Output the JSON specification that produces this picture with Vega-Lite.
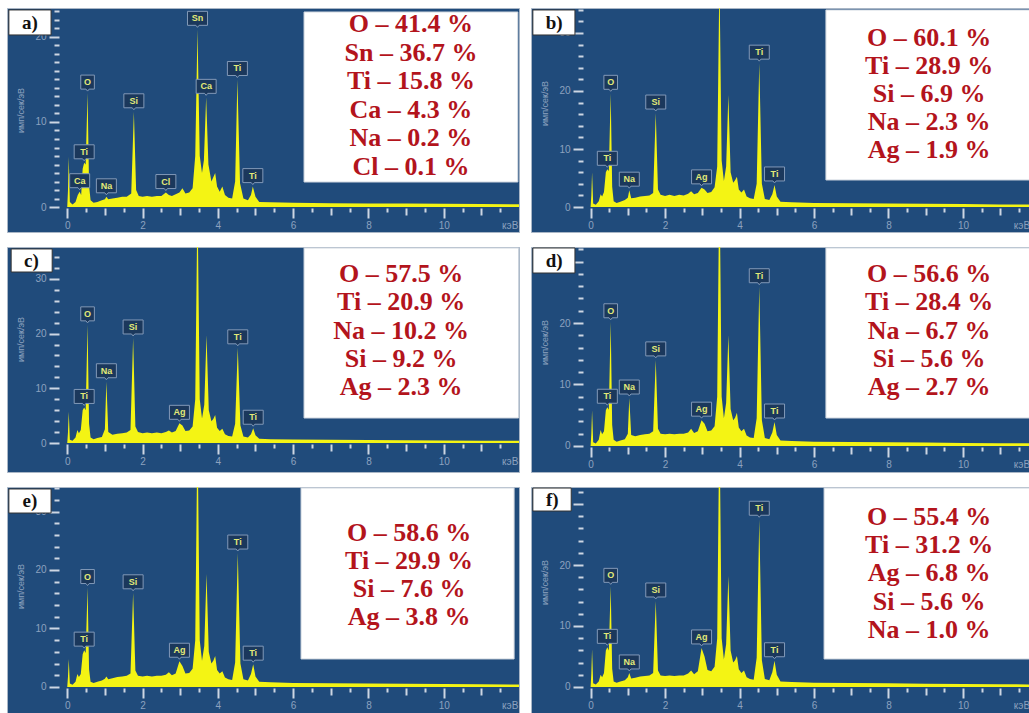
{
"$schema": "https://vega.github.io/schema/vega-lite/v6.json",
"background": "white",
"padding": {"left": 6, "top": 7, "right": 0, "bottom": 0},
"config": {"view": {"fill": "#204b7b", "stroke": "#a9b6c6", "strokeWidth": 1}, "axis": {"labelFont": "Liberation Sans", "titleFont": "Liberation Sans", "titlePadding": 9}},
"datasets": {
"spec": [
{"p":"a","e":0,"c":0},{"p":"a","e":0.02,"c":2},{"p":"a","e":0.04,"c":5.9},{"p":"a","e":0.07,"c":0.6},{"p":"a","e":0.14,"c":0.3},{"p":"a","e":0.22,"c":0.6},{"p":"a","e":0.28,"c":1.4},{"p":"a","e":0.33,"c":1.8},{"p":"a","e":0.37,"c":1.4},{"p":"a","e":0.41,"c":4.5},{"p":"a","e":0.45,"c":5.2},{"p":"a","e":0.49,"c":5.0},{"p":"a","e":0.54,"c":13.4},{"p":"a","e":0.58,"c":2.5},{"p":"a","e":0.62,"c":0.8},{"p":"a","e":0.7,"c":0.5},{"p":"a","e":0.8,"c":0.6},{"p":"a","e":0.92,"c":0.8},{"p":"a","e":1.0,"c":0.9},{"p":"a","e":1.04,"c":1.2},{"p":"a","e":1.09,"c":0.9},{"p":"a","e":1.2,"c":1.0},{"p":"a","e":1.33,"c":1.1},{"p":"a","e":1.46,"c":1.2},{"p":"a","e":1.58,"c":1.2},{"p":"a","e":1.7,"c":1.6},{"p":"a","e":1.77,"c":11.2},{"p":"a","e":1.83,"c":2.0},{"p":"a","e":1.9,"c":1.3},{"p":"a","e":2.0,"c":1.2},{"p":"a","e":2.12,"c":1.3},{"p":"a","e":2.25,"c":1.2},{"p":"a","e":2.38,"c":1.3},{"p":"a","e":2.5,"c":1.3},{"p":"a","e":2.62,"c":1.7},{"p":"a","e":2.7,"c":1.4},{"p":"a","e":2.78,"c":1.3},{"p":"a","e":2.88,"c":1.5},{"p":"a","e":2.98,"c":1.7},{"p":"a","e":3.06,"c":2.2},{"p":"a","e":3.14,"c":1.6},{"p":"a","e":3.24,"c":1.7},{"p":"a","e":3.33,"c":2.2},{"p":"a","e":3.4,"c":6.0},{"p":"a","e":3.46,"c":20.9},{"p":"a","e":3.52,"c":6.0},{"p":"a","e":3.58,"c":4.0},{"p":"a","e":3.63,"c":5.5},{"p":"a","e":3.69,"c":12.9},{"p":"a","e":3.75,"c":5.0},{"p":"a","e":3.83,"c":3.0},{"p":"a","e":3.88,"c":3.5},{"p":"a","e":3.93,"c":4.0},{"p":"a","e":3.98,"c":2.4},{"p":"a","e":4.05,"c":1.8},{"p":"a","e":4.12,"c":2.4},{"p":"a","e":4.19,"c":1.4},{"p":"a","e":4.28,"c":1.1},{"p":"a","e":4.38,"c":1.0},{"p":"a","e":4.46,"c":3.0},{"p":"a","e":4.52,"c":15.0},{"p":"a","e":4.59,"c":2.8},{"p":"a","e":4.68,"c":1.0},{"p":"a","e":4.8,"c":0.8},{"p":"a","e":4.88,"c":1.4},{"p":"a","e":4.93,"c":2.4},{"p":"a","e":5.0,"c":1.2},{"p":"a","e":5.1,"c":0.6},{"p":"a","e":5.4,"c":0.55},{"p":"a","e":6,"c":0.5},{"p":"a","e":7,"c":0.45},{"p":"a","e":8,"c":0.42},{"p":"a","e":9,"c":0.4},{"p":"a","e":10,"c":0.38},{"p":"a","e":11,"c":0.35},{"p":"a","e":12,"c":0.33},
{"p":"b","e":0,"c":0},{"p":"b","e":0.02,"c":2},{"p":"b","e":0.04,"c":6.0},{"p":"b","e":0.07,"c":0.6},{"p":"b","e":0.14,"c":0.4},{"p":"b","e":0.22,"c":1.0},{"p":"b","e":0.27,"c":2.2},{"p":"b","e":0.31,"c":1.8},{"p":"b","e":0.36,"c":2.6},{"p":"b","e":0.41,"c":6.0},{"p":"b","e":0.45,"c":6.5},{"p":"b","e":0.49,"c":6.2},{"p":"b","e":0.54,"c":19.6},{"p":"b","e":0.58,"c":3.5},{"p":"b","e":0.62,"c":1.0},{"p":"b","e":0.7,"c":0.7},{"p":"b","e":0.8,"c":0.9},{"p":"b","e":0.92,"c":1.2},{"p":"b","e":1.0,"c":1.6},{"p":"b","e":1.04,"c":2.9},{"p":"b","e":1.09,"c":1.5},{"p":"b","e":1.2,"c":1.6},{"p":"b","e":1.33,"c":1.8},{"p":"b","e":1.46,"c":1.9},{"p":"b","e":1.58,"c":2.0},{"p":"b","e":1.68,"c":2.4},{"p":"b","e":1.75,"c":16.2},{"p":"b","e":1.81,"c":3.0},{"p":"b","e":1.88,"c":2.1},{"p":"b","e":2.0,"c":1.9},{"p":"b","e":2.12,"c":2.1},{"p":"b","e":2.25,"c":1.9},{"p":"b","e":2.38,"c":2.1},{"p":"b","e":2.5,"c":2.0},{"p":"b","e":2.62,"c":2.3},{"p":"b","e":2.7,"c":2.7},{"p":"b","e":2.78,"c":2.2},{"p":"b","e":2.88,"c":2.4},{"p":"b","e":2.98,"c":3.3},{"p":"b","e":3.06,"c":3.0},{"p":"b","e":3.14,"c":2.4},{"p":"b","e":3.24,"c":2.6},{"p":"b","e":3.33,"c":3.4},{"p":"b","e":3.4,"c":7.0},{"p":"b","e":3.46,"c":40},{"p":"b","e":3.52,"c":8.0},{"p":"b","e":3.58,"c":4.5},{"p":"b","e":3.64,"c":7.0},{"p":"b","e":3.7,"c":19.3},{"p":"b","e":3.76,"c":6.0},{"p":"b","e":3.83,"c":4.2},{"p":"b","e":3.88,"c":4.6},{"p":"b","e":3.93,"c":5.2},{"p":"b","e":3.98,"c":3.0},{"p":"b","e":4.05,"c":2.5},{"p":"b","e":4.12,"c":3.0},{"p":"b","e":4.19,"c":1.8},{"p":"b","e":4.28,"c":1.5},{"p":"b","e":4.38,"c":1.4},{"p":"b","e":4.46,"c":4.0},{"p":"b","e":4.53,"c":24.8},{"p":"b","e":4.6,"c":4.0},{"p":"b","e":4.68,"c":1.4},{"p":"b","e":4.8,"c":1.2},{"p":"b","e":4.88,"c":2.2},{"p":"b","e":4.94,"c":3.8},{"p":"b","e":5.0,"c":1.8},{"p":"b","e":5.1,"c":0.9},{"p":"b","e":5.4,"c":0.8},{"p":"b","e":6,"c":0.7},{"p":"b","e":7,"c":0.65},{"p":"b","e":8,"c":0.6},{"p":"b","e":9,"c":0.55},{"p":"b","e":10,"c":0.5},{"p":"b","e":11,"c":0.45},{"p":"b","e":12,"c":0.4},
{"p":"c","e":0,"c":0},{"p":"c","e":0.02,"c":2},{"p":"c","e":0.04,"c":5.7},{"p":"c","e":0.07,"c":0.6},{"p":"c","e":0.14,"c":0.4},{"p":"c","e":0.22,"c":1.0},{"p":"c","e":0.27,"c":2.4},{"p":"c","e":0.31,"c":1.8},{"p":"c","e":0.36,"c":2.4},{"p":"c","e":0.41,"c":6.0},{"p":"c","e":0.45,"c":6.5},{"p":"c","e":0.49,"c":6.0},{"p":"c","e":0.54,"c":21.6},{"p":"c","e":0.58,"c":3.5},{"p":"c","e":0.62,"c":1.0},{"p":"c","e":0.7,"c":0.7},{"p":"c","e":0.8,"c":0.9},{"p":"c","e":0.92,"c":1.1},{"p":"c","e":1.0,"c":2.5},{"p":"c","e":1.04,"c":11.2},{"p":"c","e":1.09,"c":2.0},{"p":"c","e":1.2,"c":1.5},{"p":"c","e":1.33,"c":1.7},{"p":"c","e":1.46,"c":1.8},{"p":"c","e":1.58,"c":1.9},{"p":"c","e":1.68,"c":2.4},{"p":"c","e":1.75,"c":19.2},{"p":"c","e":1.81,"c":3.0},{"p":"c","e":1.88,"c":2.0},{"p":"c","e":2.0,"c":1.8},{"p":"c","e":2.12,"c":1.9},{"p":"c","e":2.25,"c":1.8},{"p":"c","e":2.38,"c":1.9},{"p":"c","e":2.5,"c":1.8},{"p":"c","e":2.62,"c":2.0},{"p":"c","e":2.7,"c":2.3},{"p":"c","e":2.78,"c":1.9},{"p":"c","e":2.88,"c":2.2},{"p":"c","e":2.98,"c":3.6},{"p":"c","e":3.06,"c":3.2},{"p":"c","e":3.14,"c":2.2},{"p":"c","e":3.24,"c":2.3},{"p":"c","e":3.33,"c":3.0},{"p":"c","e":3.4,"c":8.0},{"p":"c","e":3.46,"c":45},{"p":"c","e":3.52,"c":8.0},{"p":"c","e":3.58,"c":4.5},{"p":"c","e":3.64,"c":7.0},{"p":"c","e":3.7,"c":19.7},{"p":"c","e":3.76,"c":6.0},{"p":"c","e":3.83,"c":4.0},{"p":"c","e":3.88,"c":4.4},{"p":"c","e":3.93,"c":5.1},{"p":"c","e":3.98,"c":2.8},{"p":"c","e":4.05,"c":2.2},{"p":"c","e":4.12,"c":2.6},{"p":"c","e":4.19,"c":1.6},{"p":"c","e":4.28,"c":1.3},{"p":"c","e":4.38,"c":1.2},{"p":"c","e":4.46,"c":3.5},{"p":"c","e":4.53,"c":17.4},{"p":"c","e":4.6,"c":3.2},{"p":"c","e":4.68,"c":1.2},{"p":"c","e":4.8,"c":1.0},{"p":"c","e":4.88,"c":1.6},{"p":"c","e":4.94,"c":2.7},{"p":"c","e":5.0,"c":1.4},{"p":"c","e":5.1,"c":0.8},{"p":"c","e":5.4,"c":0.7},{"p":"c","e":6,"c":0.65},{"p":"c","e":7,"c":0.6},{"p":"c","e":8,"c":0.55},{"p":"c","e":9,"c":0.5},{"p":"c","e":10,"c":0.45},{"p":"c","e":11,"c":0.42},{"p":"c","e":12,"c":0.4},
{"p":"d","e":0,"c":0},{"p":"d","e":0.02,"c":2},{"p":"d","e":0.04,"c":5.8},{"p":"d","e":0.07,"c":0.6},{"p":"d","e":0.14,"c":0.4},{"p":"d","e":0.22,"c":1.0},{"p":"d","e":0.27,"c":2.6},{"p":"d","e":0.31,"c":1.9},{"p":"d","e":0.36,"c":2.4},{"p":"d","e":0.41,"c":5.8},{"p":"d","e":0.45,"c":6.3},{"p":"d","e":0.49,"c":5.9},{"p":"d","e":0.54,"c":20.2},{"p":"d","e":0.58,"c":3.4},{"p":"d","e":0.62,"c":1.0},{"p":"d","e":0.7,"c":0.7},{"p":"d","e":0.8,"c":0.9},{"p":"d","e":0.92,"c":1.1},{"p":"d","e":1.0,"c":2.0},{"p":"d","e":1.04,"c":7.8},{"p":"d","e":1.09,"c":1.8},{"p":"d","e":1.2,"c":1.6},{"p":"d","e":1.33,"c":1.8},{"p":"d","e":1.46,"c":1.9},{"p":"d","e":1.58,"c":2.0},{"p":"d","e":1.68,"c":2.4},{"p":"d","e":1.75,"c":14.0},{"p":"d","e":1.81,"c":2.8},{"p":"d","e":1.88,"c":2.0},{"p":"d","e":2.0,"c":1.9},{"p":"d","e":2.12,"c":2.0},{"p":"d","e":2.25,"c":1.9},{"p":"d","e":2.38,"c":2.0},{"p":"d","e":2.5,"c":2.0},{"p":"d","e":2.62,"c":2.2},{"p":"d","e":2.7,"c":2.8},{"p":"d","e":2.78,"c":2.1},{"p":"d","e":2.88,"c":2.4},{"p":"d","e":2.98,"c":4.2},{"p":"d","e":3.06,"c":3.6},{"p":"d","e":3.14,"c":2.4},{"p":"d","e":3.24,"c":2.5},{"p":"d","e":3.33,"c":3.2},{"p":"d","e":3.4,"c":8.0},{"p":"d","e":3.46,"c":45},{"p":"d","e":3.52,"c":8.0},{"p":"d","e":3.58,"c":4.5},{"p":"d","e":3.64,"c":7.0},{"p":"d","e":3.7,"c":18.0},{"p":"d","e":3.76,"c":6.0},{"p":"d","e":3.83,"c":4.2},{"p":"d","e":3.88,"c":4.6},{"p":"d","e":3.93,"c":5.4},{"p":"d","e":3.98,"c":3.0},{"p":"d","e":4.05,"c":2.4},{"p":"d","e":4.12,"c":2.8},{"p":"d","e":4.19,"c":1.7},{"p":"d","e":4.28,"c":1.4},{"p":"d","e":4.38,"c":1.3},{"p":"d","e":4.46,"c":4.5},{"p":"d","e":4.53,"c":25.9},{"p":"d","e":4.6,"c":4.2},{"p":"d","e":4.68,"c":1.3},{"p":"d","e":4.8,"c":1.1},{"p":"d","e":4.88,"c":2.2},{"p":"d","e":4.94,"c":3.9},{"p":"d","e":5.0,"c":1.8},{"p":"d","e":5.1,"c":0.9},{"p":"d","e":5.4,"c":0.8},{"p":"d","e":6,"c":0.7},{"p":"d","e":7,"c":0.65},{"p":"d","e":8,"c":0.6},{"p":"d","e":9,"c":0.55},{"p":"d","e":10,"c":0.5},{"p":"d","e":11,"c":0.45},{"p":"d","e":12,"c":0.42},
{"p":"e","e":0,"c":0},{"p":"e","e":0.02,"c":1.8},{"p":"e","e":0.04,"c":4.8},{"p":"e","e":0.07,"c":0.6},{"p":"e","e":0.14,"c":0.4},{"p":"e","e":0.22,"c":0.9},{"p":"e","e":0.27,"c":2.2},{"p":"e","e":0.31,"c":1.7},{"p":"e","e":0.36,"c":2.2},{"p":"e","e":0.41,"c":5.6},{"p":"e","e":0.45,"c":6.3},{"p":"e","e":0.49,"c":5.8},{"p":"e","e":0.54,"c":17.0},{"p":"e","e":0.58,"c":3.0},{"p":"e","e":0.62,"c":0.9},{"p":"e","e":0.7,"c":0.7},{"p":"e","e":0.8,"c":0.9},{"p":"e","e":0.92,"c":1.1},{"p":"e","e":1.0,"c":1.4},{"p":"e","e":1.04,"c":1.8},{"p":"e","e":1.09,"c":1.3},{"p":"e","e":1.2,"c":1.5},{"p":"e","e":1.33,"c":1.7},{"p":"e","e":1.46,"c":1.8},{"p":"e","e":1.58,"c":1.9},{"p":"e","e":1.68,"c":2.3},{"p":"e","e":1.75,"c":16.1},{"p":"e","e":1.81,"c":2.8},{"p":"e","e":1.88,"c":1.9},{"p":"e","e":2.0,"c":1.8},{"p":"e","e":2.12,"c":1.9},{"p":"e","e":2.25,"c":1.8},{"p":"e","e":2.38,"c":1.9},{"p":"e","e":2.5,"c":1.9},{"p":"e","e":2.62,"c":2.1},{"p":"e","e":2.7,"c":2.5},{"p":"e","e":2.78,"c":2.0},{"p":"e","e":2.88,"c":2.3},{"p":"e","e":2.98,"c":4.4},{"p":"e","e":3.06,"c":3.6},{"p":"e","e":3.14,"c":2.3},{"p":"e","e":3.24,"c":2.4},{"p":"e","e":3.33,"c":3.1},{"p":"e","e":3.4,"c":8.0},{"p":"e","e":3.46,"c":45},{"p":"e","e":3.52,"c":8.0},{"p":"e","e":3.58,"c":4.5},{"p":"e","e":3.64,"c":7.0},{"p":"e","e":3.7,"c":19.3},{"p":"e","e":3.76,"c":6.0},{"p":"e","e":3.83,"c":4.0},{"p":"e","e":3.88,"c":4.5},{"p":"e","e":3.93,"c":5.3},{"p":"e","e":3.98,"c":2.9},{"p":"e","e":4.05,"c":2.3},{"p":"e","e":4.12,"c":2.7},{"p":"e","e":4.19,"c":1.6},{"p":"e","e":4.28,"c":1.3},{"p":"e","e":4.38,"c":1.2},{"p":"e","e":4.46,"c":4.2},{"p":"e","e":4.53,"c":22.9},{"p":"e","e":4.6,"c":4.0},{"p":"e","e":4.68,"c":1.3},{"p":"e","e":4.8,"c":1.1},{"p":"e","e":4.88,"c":2.2},{"p":"e","e":4.94,"c":3.9},{"p":"e","e":5.0,"c":1.8},{"p":"e","e":5.1,"c":0.9},{"p":"e","e":5.4,"c":0.8},{"p":"e","e":6,"c":0.7},{"p":"e","e":7,"c":0.65},{"p":"e","e":8,"c":0.6},{"p":"e","e":9,"c":0.55},{"p":"e","e":10,"c":0.5},{"p":"e","e":11,"c":0.45},{"p":"e","e":12,"c":0.42},
{"p":"f","e":0,"c":0},{"p":"f","e":0.02,"c":2.2},{"p":"f","e":0.04,"c":6.2},{"p":"f","e":0.07,"c":0.6},{"p":"f","e":0.14,"c":0.4},{"p":"f","e":0.22,"c":0.9},{"p":"f","e":0.27,"c":2.0},{"p":"f","e":0.31,"c":1.6},{"p":"f","e":0.36,"c":2.3},{"p":"f","e":0.41,"c":6.0},{"p":"f","e":0.45,"c":6.5},{"p":"f","e":0.49,"c":6.0},{"p":"f","e":0.54,"c":16.5},{"p":"f","e":0.58,"c":3.0},{"p":"f","e":0.62,"c":0.9},{"p":"f","e":0.7,"c":0.7},{"p":"f","e":0.8,"c":0.9},{"p":"f","e":0.92,"c":1.1},{"p":"f","e":1.0,"c":1.6},{"p":"f","e":1.04,"c":2.3},{"p":"f","e":1.09,"c":1.4},{"p":"f","e":1.2,"c":1.5},{"p":"f","e":1.33,"c":1.7},{"p":"f","e":1.46,"c":1.8},{"p":"f","e":1.58,"c":1.9},{"p":"f","e":1.68,"c":2.3},{"p":"f","e":1.75,"c":14.1},{"p":"f","e":1.81,"c":2.7},{"p":"f","e":1.88,"c":1.9},{"p":"f","e":2.0,"c":1.8},{"p":"f","e":2.12,"c":1.9},{"p":"f","e":2.25,"c":1.8},{"p":"f","e":2.38,"c":1.9},{"p":"f","e":2.5,"c":1.9},{"p":"f","e":2.62,"c":2.2},{"p":"f","e":2.7,"c":2.7},{"p":"f","e":2.78,"c":2.1},{"p":"f","e":2.88,"c":2.6},{"p":"f","e":2.98,"c":6.4},{"p":"f","e":3.06,"c":5.0},{"p":"f","e":3.14,"c":2.8},{"p":"f","e":3.24,"c":2.6},{"p":"f","e":3.33,"c":3.3},{"p":"f","e":3.4,"c":8.0},{"p":"f","e":3.46,"c":45},{"p":"f","e":3.52,"c":8.0},{"p":"f","e":3.58,"c":4.5},{"p":"f","e":3.64,"c":7.0},{"p":"f","e":3.7,"c":18.2},{"p":"f","e":3.76,"c":6.0},{"p":"f","e":3.83,"c":4.0},{"p":"f","e":3.88,"c":4.4},{"p":"f","e":3.93,"c":5.1},{"p":"f","e":3.98,"c":2.9},{"p":"f","e":4.05,"c":2.3},{"p":"f","e":4.12,"c":2.7},{"p":"f","e":4.19,"c":1.6},{"p":"f","e":4.28,"c":1.3},{"p":"f","e":4.38,"c":1.2},{"p":"f","e":4.46,"c":4.8},{"p":"f","e":4.53,"c":27.5},{"p":"f","e":4.6,"c":4.4},{"p":"f","e":4.68,"c":1.3},{"p":"f","e":4.8,"c":1.1},{"p":"f","e":4.88,"c":2.4},{"p":"f","e":4.94,"c":4.3},{"p":"f","e":5.0,"c":2.0},{"p":"f","e":5.1,"c":0.9},{"p":"f","e":5.4,"c":0.8},{"p":"f","e":6,"c":0.7},{"p":"f","e":7,"c":0.65},{"p":"f","e":8,"c":0.6},{"p":"f","e":9,"c":0.55},{"p":"f","e":10,"c":0.5},{"p":"f","e":11,"c":0.45},{"p":"f","e":12,"c":0.42}
],
"peaks": [
{"p":"a","el":"Ca","e":0.33,"c":1.8},{"p":"a","el":"Ti","e":0.45,"c":5.2},{"p":"a","el":"O","e":0.54,"c":13.4},{"p":"a","el":"Na","e":1.04,"c":1.2},{"p":"a","el":"Si","e":1.77,"c":11.2},{"p":"a","el":"Cl","e":2.62,"c":1.7},{"p":"a","el":"Sn","e":3.46,"c":20.9},{"p":"a","el":"Ca","e":3.69,"c":12.9},{"p":"a","el":"Ti","e":4.52,"c":15.0},{"p":"a","el":"Ti","e":4.93,"c":2.4},
{"p":"b","el":"Ti","e":0.45,"c":6.5},{"p":"b","el":"O","e":0.54,"c":19.6},{"p":"b","el":"Na","e":1.04,"c":2.9},{"p":"b","el":"Si","e":1.75,"c":16.2},{"p":"b","el":"Ag","e":2.98,"c":3.3},{"p":"b","el":"Ti","e":4.53,"c":24.8},{"p":"b","el":"Ti","e":4.94,"c":3.8},
{"p":"c","el":"Ti","e":0.45,"c":6.5},{"p":"c","el":"O","e":0.54,"c":21.6},{"p":"c","el":"Na","e":1.04,"c":11.2},{"p":"c","el":"Si","e":1.75,"c":19.2},{"p":"c","el":"Ag","e":2.98,"c":3.6},{"p":"c","el":"Ti","e":4.53,"c":17.4},{"p":"c","el":"Ti","e":4.94,"c":2.7},
{"p":"d","el":"Ti","e":0.45,"c":6.3},{"p":"d","el":"O","e":0.54,"c":20.2},{"p":"d","el":"Na","e":1.04,"c":7.8},{"p":"d","el":"Si","e":1.75,"c":14.0},{"p":"d","el":"Ag","e":2.98,"c":4.2},{"p":"d","el":"Ti","e":4.53,"c":25.9},{"p":"d","el":"Ti","e":4.94,"c":3.9},
{"p":"e","el":"Ti","e":0.45,"c":6.3},{"p":"e","el":"O","e":0.54,"c":17.0},{"p":"e","el":"Si","e":1.75,"c":16.1},{"p":"e","el":"Ag","e":2.98,"c":4.4},{"p":"e","el":"Ti","e":4.53,"c":22.9},{"p":"e","el":"Ti","e":4.94,"c":3.9},
{"p":"f","el":"Ti","e":0.45,"c":6.5},{"p":"f","el":"O","e":0.54,"c":16.5},{"p":"f","el":"Na","e":1.04,"c":2.3},{"p":"f","el":"Si","e":1.75,"c":14.1},{"p":"f","el":"Ag","e":2.98,"c":6.4},{"p":"f","el":"Ti","e":4.53,"c":27.5},{"p":"f","el":"Ti","e":4.94,"c":4.3}
],
"comp": [
{"p":"a","t":"O – 41.4 %\nSn – 36.7 %\nTi – 15.8 %\nCa – 4.3 %\nNa – 0.2 %\nCl – 0.1 %"},
{"p":"b","t":"O – 60.1 %\nTi – 28.9 %\nSi – 6.9 %\nNa – 2.3 %\nAg – 1.9 %"},
{"p":"c","t":"O – 57.5 %\nTi – 20.9 %\nNa – 10.2 %\nSi – 9.2 %\nAg – 2.3 %"},
{"p":"d","t":"O – 56.6 %\nTi – 28.4 %\nNa – 6.7 %\nSi – 5.6 %\nAg – 2.7 %"},
{"p":"e","t":"O – 58.6 %\nTi – 29.9 %\nSi – 7.6 %\nAg – 3.8 %"},
{"p":"f","t":"O – 55.4 %\nTi – 31.2 %\nAg – 6.8 %\nSi – 5.6 %\nNa – 1.0 %"}
],
"tags": [
{"p":"a","tag":"a)"},{"p":"b","tag":"b)"},{"p":"c","tag":"c)"},{"p":"d","tag":"d)"},{"p":"e","tag":"e)"},{"p":"f","tag":"f)"}
]
},
"spacing": 13,
"vconcat": [
{"hconcat": [
{"width": 512, "height": 224, "layer": [
{"data": {"name": "spec"}, "transform": [{"filter": "datum.p == 'a'"}], "mark": {"type": "area", "color": "#f4f414", "clip": true, "opacity": 1},
 "encoding": {
  "x": {"field": "e", "type": "quantitative", "scale": {"domain": [-1.6, 12.0], "nice": false, "zero": false},
   "axis": {"values": [0,0.5,1,1.5,2,2.5,3,3.5,4,4.5,5,5.5,6,6.5,7,7.5,8,8.5,9,9.5,10,10.5,11,11.5,11.97], "tickCount": 100, "labelExpr": "datum.value > 11.6 ? 'кэВ' : (datum.value % 2 == 0 ? format(datum.value, 'd') : '')", "labelAlign": {"condition": {"test": "datum.value > 11.6", "value": "right"}, "value": "center"}, "labelFontSize": {"condition": {"test": "datum.value % 2 == 0 || datum.value > 11.6", "value": 10}, "value": 0}, "offset": -24, "domain": false, "grid": false, "title": null, "tickColor": "#cdd6e3", "tickWidth": 2, "tickSize": {"condition": [{"test": "datum.value % 2 == 0 || datum.value > 11.6", "value": 10}, {"test": "datum.value % 1 == 0", "value": 7}], "value": 4}, "tickOpacity": {"condition": {"test": "datum.value > 11.6", "value": 0}, "value": 1}, "labelColor": "#8da2bf", "labelPadding": 2, "labelOverlap": false, "labelBound": false, "labelFlush": false}},
  "y": {"field": "c", "type": "quantitative", "stack": null, "scale": {"domain": [-2.94, 23.41], "nice": false, "zero": false},
   "axis": {"values": [0,1,2,3,4,5,6,7,8,9,10,11,12,13,14,15,16,17,18,19,20,21,22,23], "tickCount": 100, "labelExpr": "datum.value % 10 == 0 ? format(datum.value, 'd') : ''", "labelFontSize": {"condition": {"test": "datum.value % 10 == 0", "value": 10}, "value": 0}, "offset": -52, "domain": false, "grid": false, "tickColor": "#cdd6e3", "tickWidth": 2, "tickSize": {"condition": {"test": "datum.value % 10 == 0", "value": 10}, "value": 5}, "labelColor": "#8da2bf", "labelPadding": 3, "labelOverlap": false, "title": "имп/сек/эВ", "titleFontSize": 9, "titleFontWeight": "normal", "titleColor": "#8da2bf", "titleY": 102}},
  "y2": {"datum": 0}}},
{"data": {"name": "comp"}, "transform": [{"filter": "datum.p == 'a'"}], "mark": {"type": "rect", "fill": "white", "stroke": "#cfd6df", "strokeWidth": 1}, "encoding": {"x": {"datum": 6.29}, "x2": {"datum": 11.97}, "y": {"datum": 22.94}, "y2": {"datum": 2.94}}},
{"data": {"name": "comp"}, "transform": [{"filter": "datum.p == 'a'"}], "mark": {"type": "text", "font": "Liberation Serif", "fontSize": 26, "fontWeight": "bold", "color": "#b3141c", "lineBreak": "\n", "lineHeight": 28.6, "align": "center", "baseline": "middle"}, "encoding": {"x": {"datum": 9.13}, "y": {"datum": 21.53}, "text": {"field": "t"}}},
{"data": {"name": "tags"}, "transform": [{"filter": "datum.p == 'a'"}], "mark": {"type": "rect", "fill": "white", "stroke": "#333333", "strokeWidth": 1}, "encoding": {"x": {"datum": -1.55}, "x2": {"datum": -0.43}, "y": {"datum": 23.18}, "y2": {"datum": 20.24}}},
{"data": {"name": "tags"}, "transform": [{"filter": "datum.p == 'a'"}], "mark": {"type": "text", "font": "Liberation Serif", "fontSize": 19, "fontWeight": "bold", "color": "#111111", "align": "center", "baseline": "middle"}, "encoding": {"x": {"datum": -0.99}, "y": {"datum": 21.7}, "text": {"field": "tag"}}},
{"data": {"name": "peaks"}, "transform": [{"filter": "datum.p == 'a'"}], "mark": {"type": "point", "filled": true, "fill": "#1b385c", "stroke": "#8299b8", "strokeWidth": 1, "opacity": 1, "size": 256, "yOffset": -10}, "encoding": {"x": {"field": "e", "type": "quantitative", "title": null}, "y": {"field": "c", "type": "quantitative", "title": "имп/сек/эВ"}, "shape": {"condition": {"test": "length(datum.el) > 1", "value": "M-1.25,-1H1.25V0.75H0.2L0,1L-0.2,0.75H-1.25Z"}, "value": "M-0.85,-1H0.85V0.75H0.2L0,1L-0.2,0.75H-0.85Z"}}},
{"data": {"name": "peaks"}, "transform": [{"filter": "datum.p == 'a'"}], "mark": {"type": "text", "font": "Liberation Sans", "fontSize": 9, "fontWeight": "bold", "color": "#e3ea78", "yOffset": -11, "align": "center", "baseline": "middle"}, "encoding": {"x": {"field": "e", "type": "quantitative", "title": null}, "y": {"field": "c", "type": "quantitative", "title": "имп/сек/эВ"}, "text": {"field": "el"}}}
]},
{"width": 499, "height": 224, "layer": [
{"data": {"name": "spec"}, "transform": [{"filter": "datum.p == 'b'"}], "mark": {"type": "area", "color": "#f4f414", "clip": true, "opacity": 1},
 "encoding": {
  "x": {"field": "e", "type": "quantitative", "scale": {"domain": [-1.6, 11.8], "nice": false, "zero": false},
   "axis": {"values": [0,0.5,1,1.5,2,2.5,3,3.5,4,4.5,5,5.5,6,6.5,7,7.5,8,8.5,9,9.5,10,10.5,11,11.5,11.79], "tickCount": 100, "labelExpr": "datum.value > 11.6 ? 'кэВ' : (datum.value % 2 == 0 ? format(datum.value, 'd') : '')", "labelAlign": {"condition": {"test": "datum.value > 11.6", "value": "right"}, "value": "center"}, "labelFontSize": {"condition": {"test": "datum.value % 2 == 0 || datum.value > 11.6", "value": 10}, "value": 0}, "offset": -24, "domain": false, "grid": false, "title": null, "tickColor": "#cdd6e3", "tickWidth": 2, "tickSize": {"condition": [{"test": "datum.value % 2 == 0 || datum.value > 11.6", "value": 10}, {"test": "datum.value % 1 == 0", "value": 7}], "value": 4}, "tickOpacity": {"condition": {"test": "datum.value > 11.6", "value": 0}, "value": 1}, "labelColor": "#8da2bf", "labelPadding": 2, "labelOverlap": false, "labelBound": false, "labelFlush": false}},
  "y": {"field": "c", "type": "quantitative", "stack": null, "scale": {"domain": [-4.31, 34.31], "nice": false, "zero": false},
   "axis": {"values": [0,2,4,6,8,10,12,14,16,18,20,22,24,26,28,30,32,34], "tickCount": 100, "labelExpr": "datum.value % 10 == 0 ? format(datum.value, 'd') : ''", "labelFontSize": {"condition": {"test": "datum.value % 10 == 0", "value": 10}, "value": 0}, "offset": -52, "domain": false, "grid": false, "tickColor": "#cdd6e3", "tickWidth": 2, "tickSize": {"condition": {"test": "datum.value % 10 == 0", "value": 10}, "value": 5}, "labelColor": "#8da2bf", "labelPadding": 3, "labelOverlap": false, "title": "имп/сек/эВ", "titleFontSize": 9, "titleFontWeight": "normal", "titleColor": "#8da2bf", "titleY": 95}},
  "y2": {"datum": 0}}},
{"data": {"name": "comp"}, "transform": [{"filter": "datum.p == 'b'"}], "mark": {"type": "rect", "fill": "white", "stroke": "#cfd6df", "strokeWidth": 1}, "encoding": {"x": {"datum": 6.32}, "x2": {"datum": 11.8}, "y": {"datum": 33.97}, "y2": {"datum": 4.66}}},
{"data": {"name": "comp"}, "transform": [{"filter": "datum.p == 'b'"}], "mark": {"type": "text", "font": "Liberation Serif", "fontSize": 26, "fontWeight": "bold", "color": "#b3141c", "lineBreak": "\n", "lineHeight": 28.0, "align": "center", "baseline": "middle"}, "encoding": {"x": {"datum": 9.09}, "y": {"datum": 29.14}, "text": {"field": "t"}}},
{"data": {"name": "tags"}, "transform": [{"filter": "datum.p == 'b'"}], "mark": {"type": "rect", "fill": "white", "stroke": "#333333", "strokeWidth": 1}, "encoding": {"x": {"datum": -1.55}, "x2": {"datum": -0.42}, "y": {"datum": 33.97}, "y2": {"datum": 29.66}}},
{"data": {"name": "tags"}, "transform": [{"filter": "datum.p == 'b'"}], "mark": {"type": "text", "font": "Liberation Serif", "fontSize": 19, "fontWeight": "bold", "color": "#111111", "align": "center", "baseline": "middle"}, "encoding": {"x": {"datum": -0.98}, "y": {"datum": 31.8}, "text": {"field": "tag"}}},
{"data": {"name": "peaks"}, "transform": [{"filter": "datum.p == 'b'"}], "mark": {"type": "point", "filled": true, "fill": "#1b385c", "stroke": "#8299b8", "strokeWidth": 1, "opacity": 1, "size": 256, "yOffset": -10}, "encoding": {"x": {"field": "e", "type": "quantitative", "title": null}, "y": {"field": "c", "type": "quantitative", "title": "имп/сек/эВ"}, "shape": {"condition": {"test": "length(datum.el) > 1", "value": "M-1.25,-1H1.25V0.75H0.2L0,1L-0.2,0.75H-1.25Z"}, "value": "M-0.85,-1H0.85V0.75H0.2L0,1L-0.2,0.75H-0.85Z"}}},
{"data": {"name": "peaks"}, "transform": [{"filter": "datum.p == 'b'"}], "mark": {"type": "text", "font": "Liberation Sans", "fontSize": 9, "fontWeight": "bold", "color": "#e3ea78", "yOffset": -11, "align": "center", "baseline": "middle"}, "encoding": {"x": {"field": "e", "type": "quantitative", "title": null}, "y": {"field": "c", "type": "quantitative", "title": "имп/сек/эВ"}, "text": {"field": "el"}}}
]}
], "spacing": 10},
{"hconcat": [
{"width": 512, "height": 225, "layer": [
{"data": {"name": "spec"}, "transform": [{"filter": "datum.p == 'c'"}], "mark": {"type": "area", "color": "#f4f414", "clip": true, "opacity": 1},
 "encoding": {
  "x": {"field": "e", "type": "quantitative", "scale": {"domain": [-1.6, 12.0], "nice": false, "zero": false},
   "axis": {"values": [0,0.5,1,1.5,2,2.5,3,3.5,4,4.5,5,5.5,6,6.5,7,7.5,8,8.5,9,9.5,10,10.5,11,11.5,11.97], "tickCount": 100, "labelExpr": "datum.value > 11.6 ? 'кэВ' : (datum.value % 2 == 0 ? format(datum.value, 'd') : '')", "labelAlign": {"condition": {"test": "datum.value > 11.6", "value": "right"}, "value": "center"}, "labelFontSize": {"condition": {"test": "datum.value % 2 == 0 || datum.value > 11.6", "value": 10}, "value": 0}, "offset": -28, "domain": false, "grid": false, "title": null, "tickColor": "#cdd6e3", "tickWidth": 2, "tickSize": {"condition": [{"test": "datum.value % 2 == 0 || datum.value > 11.6", "value": 10}, {"test": "datum.value % 1 == 0", "value": 7}], "value": 4}, "tickOpacity": {"condition": {"test": "datum.value > 11.6", "value": 0}, "value": 1}, "labelColor": "#8da2bf", "labelPadding": 2, "labelOverlap": false, "labelBound": false, "labelFlush": false}},
  "y": {"field": "c", "type": "quantitative", "stack": null, "scale": {"domain": [-5.3, 35.83], "nice": false, "zero": false},
   "axis": {"values": [0,2,4,6,8,10,12,14,16,18,20,22,24,26,28,30,32,34], "tickCount": 100, "labelExpr": "datum.value % 10 == 0 ? format(datum.value, 'd') : ''", "labelFontSize": {"condition": {"test": "datum.value % 10 == 0", "value": 10}, "value": 0}, "offset": -52, "domain": false, "grid": false, "tickColor": "#cdd6e3", "tickWidth": 2, "tickSize": {"condition": {"test": "datum.value % 10 == 0", "value": 10}, "value": 5}, "labelColor": "#8da2bf", "labelPadding": 3, "labelOverlap": false, "title": "имп/сек/эВ", "titleFontSize": 9, "titleFontWeight": "normal", "titleColor": "#8da2bf", "titleY": 92}},
  "y2": {"datum": 0}}},
{"data": {"name": "comp"}, "transform": [{"filter": "datum.p == 'c'"}], "mark": {"type": "rect", "fill": "white", "stroke": "#cfd6df", "strokeWidth": 1}, "encoding": {"x": {"datum": 6.29}, "x2": {"datum": 11.99}, "y": {"datum": 35.65}, "y2": {"datum": 4.57}}},
{"data": {"name": "comp"}, "transform": [{"filter": "datum.p == 'c'"}], "mark": {"type": "text", "font": "Liberation Serif", "fontSize": 26, "fontWeight": "bold", "color": "#b3141c", "lineBreak": "\n", "lineHeight": 28.3, "align": "center", "baseline": "middle"}, "encoding": {"x": {"datum": 8.87}, "y": {"datum": 30.9}, "text": {"field": "t"}}},
{"data": {"name": "tags"}, "transform": [{"filter": "datum.p == 'c'"}], "mark": {"type": "rect", "fill": "white", "stroke": "#333333", "strokeWidth": 1}, "encoding": {"x": {"datum": -1.49}, "x2": {"datum": -0.4}, "y": {"datum": 35.47}, "y2": {"datum": 31.26}}},
{"data": {"name": "tags"}, "transform": [{"filter": "datum.p == 'c'"}], "mark": {"type": "text", "font": "Liberation Serif", "fontSize": 19, "fontWeight": "bold", "color": "#111111", "align": "center", "baseline": "middle"}, "encoding": {"x": {"datum": -0.95}, "y": {"datum": 33.36}, "text": {"field": "tag"}}},
{"data": {"name": "peaks"}, "transform": [{"filter": "datum.p == 'c'"}], "mark": {"type": "point", "filled": true, "fill": "#1b385c", "stroke": "#8299b8", "strokeWidth": 1, "opacity": 1, "size": 256, "yOffset": -10}, "encoding": {"x": {"field": "e", "type": "quantitative", "title": null}, "y": {"field": "c", "type": "quantitative", "title": "имп/сек/эВ"}, "shape": {"condition": {"test": "length(datum.el) > 1", "value": "M-1.25,-1H1.25V0.75H0.2L0,1L-0.2,0.75H-1.25Z"}, "value": "M-0.85,-1H0.85V0.75H0.2L0,1L-0.2,0.75H-0.85Z"}}},
{"data": {"name": "peaks"}, "transform": [{"filter": "datum.p == 'c'"}], "mark": {"type": "text", "font": "Liberation Sans", "fontSize": 9, "fontWeight": "bold", "color": "#e3ea78", "yOffset": -11, "align": "center", "baseline": "middle"}, "encoding": {"x": {"field": "e", "type": "quantitative", "title": null}, "y": {"field": "c", "type": "quantitative", "title": "имп/сек/эВ"}, "text": {"field": "el"}}}
]},
{"width": 499, "height": 225, "layer": [
{"data": {"name": "spec"}, "transform": [{"filter": "datum.p == 'd'"}], "mark": {"type": "area", "color": "#f4f414", "clip": true, "opacity": 1},
 "encoding": {
  "x": {"field": "e", "type": "quantitative", "scale": {"domain": [-1.6, 11.8], "nice": false, "zero": false},
   "axis": {"values": [0,0.5,1,1.5,2,2.5,3,3.5,4,4.5,5,5.5,6,6.5,7,7.5,8,8.5,9,9.5,10,10.5,11,11.5,11.79], "tickCount": 100, "labelExpr": "datum.value > 11.6 ? 'кэВ' : (datum.value % 2 == 0 ? format(datum.value, 'd') : '')", "labelAlign": {"condition": {"test": "datum.value > 11.6", "value": "right"}, "value": "center"}, "labelFontSize": {"condition": {"test": "datum.value % 2 == 0 || datum.value > 11.6", "value": 10}, "value": 0}, "offset": -25, "domain": false, "grid": false, "title": null, "tickColor": "#cdd6e3", "tickWidth": 2, "tickSize": {"condition": [{"test": "datum.value % 2 == 0 || datum.value > 11.6", "value": 10}, {"test": "datum.value % 1 == 0", "value": 7}], "value": 4}, "tickOpacity": {"condition": {"test": "datum.value > 11.6", "value": 0}, "value": 1}, "labelColor": "#8da2bf", "labelPadding": 2, "labelOverlap": false, "labelBound": false, "labelFlush": false}},
  "y": {"field": "c", "type": "quantitative", "stack": null, "scale": {"domain": [-4.23, 32.36], "nice": false, "zero": false},
   "axis": {"values": [0,2,4,6,8,10,12,14,16,18,20,22,24,26,28,30,32], "tickCount": 100, "labelExpr": "datum.value % 10 == 0 ? format(datum.value, 'd') : ''", "labelFontSize": {"condition": {"test": "datum.value % 10 == 0", "value": 10}, "value": 0}, "offset": -52, "domain": false, "grid": false, "tickColor": "#cdd6e3", "tickWidth": 2, "tickSize": {"condition": {"test": "datum.value % 10 == 0", "value": 10}, "value": 5}, "labelColor": "#8da2bf", "labelPadding": 3, "labelOverlap": false, "title": "имп/сек/эВ", "titleFontSize": 9, "titleFontWeight": "normal", "titleColor": "#8da2bf", "titleY": 95}},
  "y2": {"datum": 0}}},
{"data": {"name": "comp"}, "transform": [{"filter": "datum.p == 'd'"}], "mark": {"type": "rect", "fill": "white", "stroke": "#cfd6df", "strokeWidth": 1}, "encoding": {"x": {"datum": 6.32}, "x2": {"datum": 11.8}, "y": {"datum": 32.2}, "y2": {"datum": 4.55}}},
{"data": {"name": "comp"}, "transform": [{"filter": "datum.p == 'd'"}], "mark": {"type": "text", "font": "Liberation Serif", "fontSize": 26, "fontWeight": "bold", "color": "#b3141c", "lineBreak": "\n", "lineHeight": 28.3, "align": "center", "baseline": "middle"}, "encoding": {"x": {"datum": 9.09}, "y": {"datum": 27.97}, "text": {"field": "t"}}},
{"data": {"name": "tags"}, "transform": [{"filter": "datum.p == 'd'"}], "mark": {"type": "rect", "fill": "white", "stroke": "#333333", "strokeWidth": 1}, "encoding": {"x": {"datum": -1.55}, "x2": {"datum": -0.42}, "y": {"datum": 32.2}, "y2": {"datum": 28.13}}},
{"data": {"name": "tags"}, "transform": [{"filter": "datum.p == 'd'"}], "mark": {"type": "text", "font": "Liberation Serif", "fontSize": 19, "fontWeight": "bold", "color": "#111111", "align": "center", "baseline": "middle"}, "encoding": {"x": {"datum": -0.98}, "y": {"datum": 30.16}, "text": {"field": "tag"}}},
{"data": {"name": "peaks"}, "transform": [{"filter": "datum.p == 'd'"}], "mark": {"type": "point", "filled": true, "fill": "#1b385c", "stroke": "#8299b8", "strokeWidth": 1, "opacity": 1, "size": 256, "yOffset": -10}, "encoding": {"x": {"field": "e", "type": "quantitative", "title": null}, "y": {"field": "c", "type": "quantitative", "title": "имп/сек/эВ"}, "shape": {"condition": {"test": "length(datum.el) > 1", "value": "M-1.25,-1H1.25V0.75H0.2L0,1L-0.2,0.75H-1.25Z"}, "value": "M-0.85,-1H0.85V0.75H0.2L0,1L-0.2,0.75H-0.85Z"}}},
{"data": {"name": "peaks"}, "transform": [{"filter": "datum.p == 'd'"}], "mark": {"type": "text", "font": "Liberation Sans", "fontSize": 9, "fontWeight": "bold", "color": "#e3ea78", "yOffset": -11, "align": "center", "baseline": "middle"}, "encoding": {"x": {"field": "e", "type": "quantitative", "title": null}, "y": {"field": "c", "type": "quantitative", "title": "имп/сек/эВ"}, "text": {"field": "el"}}}
]}
], "spacing": 10},
{"hconcat": [
{"width": 512, "height": 227, "layer": [
{"data": {"name": "spec"}, "transform": [{"filter": "datum.p == 'e'"}], "mark": {"type": "area", "color": "#f4f414", "clip": true, "opacity": 1},
 "encoding": {
  "x": {"field": "e", "type": "quantitative", "scale": {"domain": [-1.6, 12.0], "nice": false, "zero": false},
   "axis": {"values": [0,0.5,1,1.5,2,2.5,3,3.5,4,4.5,5,5.5,6,6.5,7,7.5,8,8.5,9,9.5,10,10.5,11,11.5,11.97], "tickCount": 100, "labelExpr": "datum.value > 11.6 ? 'кэВ' : (datum.value % 2 == 0 ? format(datum.value, 'd') : '')", "labelAlign": {"condition": {"test": "datum.value > 11.6", "value": "right"}, "value": "center"}, "labelFontSize": {"condition": {"test": "datum.value % 2 == 0 || datum.value > 11.6", "value": 10}, "value": 0}, "offset": -26, "domain": false, "grid": false, "title": null, "tickColor": "#cdd6e3", "tickWidth": 2, "tickSize": {"condition": [{"test": "datum.value % 2 == 0 || datum.value > 11.6", "value": 10}, {"test": "datum.value % 1 == 0", "value": 7}], "value": 4}, "tickOpacity": {"condition": {"test": "datum.value > 11.6", "value": 0}, "value": 1}, "labelColor": "#8da2bf", "labelPadding": 2, "labelOverlap": false, "labelBound": false, "labelFlush": false}},
  "y": {"field": "c", "type": "quantitative", "stack": null, "scale": {"domain": [-4.62, 34.19], "nice": false, "zero": false},
   "axis": {"values": [0,2,4,6,8,10,12,14,16,18,20,22,24,26,28,30,32,34], "tickCount": 100, "labelExpr": "datum.value % 10 == 0 ? format(datum.value, 'd') : ''", "labelFontSize": {"condition": {"test": "datum.value % 10 == 0", "value": 10}, "value": 0}, "offset": -52, "domain": false, "grid": false, "tickColor": "#cdd6e3", "tickWidth": 2, "tickSize": {"condition": {"test": "datum.value % 10 == 0", "value": 10}, "value": 5}, "labelColor": "#8da2bf", "labelPadding": 3, "labelOverlap": false, "title": "имп/сек/эВ", "titleFontSize": 9, "titleFontWeight": "normal", "titleColor": "#8da2bf", "titleY": 99}},
  "y2": {"datum": 0}}},
{"data": {"name": "comp"}, "transform": [{"filter": "datum.p == 'e'"}], "mark": {"type": "rect", "fill": "white", "stroke": "#cfd6df", "strokeWidth": 1}, "encoding": {"x": {"datum": 6.21}, "x2": {"datum": 11.87}, "y": {"datum": 34.02}, "y2": {"datum": 4.79}}},
{"data": {"name": "comp"}, "transform": [{"filter": "datum.p == 'e'"}], "mark": {"type": "text", "font": "Liberation Serif", "fontSize": 26, "fontWeight": "bold", "color": "#b3141c", "lineBreak": "\n", "lineHeight": 28.2, "align": "center", "baseline": "middle"}, "encoding": {"x": {"datum": 9.08}, "y": {"datum": 26.41}, "text": {"field": "t"}}},
{"data": {"name": "tags"}, "transform": [{"filter": "datum.p == 'e'"}], "mark": {"type": "rect", "fill": "white", "stroke": "#333333", "strokeWidth": 1}, "encoding": {"x": {"datum": -1.55}, "x2": {"datum": -0.43}, "y": {"datum": 33.85}, "y2": {"datum": 29.74}}},
{"data": {"name": "tags"}, "transform": [{"filter": "datum.p == 'e'"}], "mark": {"type": "text", "font": "Liberation Serif", "fontSize": 19, "fontWeight": "bold", "color": "#111111", "align": "center", "baseline": "middle"}, "encoding": {"x": {"datum": -0.99}, "y": {"datum": 31.8}, "text": {"field": "tag"}}},
{"data": {"name": "peaks"}, "transform": [{"filter": "datum.p == 'e'"}], "mark": {"type": "point", "filled": true, "fill": "#1b385c", "stroke": "#8299b8", "strokeWidth": 1, "opacity": 1, "size": 256, "yOffset": -10}, "encoding": {"x": {"field": "e", "type": "quantitative", "title": null}, "y": {"field": "c", "type": "quantitative", "title": "имп/сек/эВ"}, "shape": {"condition": {"test": "length(datum.el) > 1", "value": "M-1.25,-1H1.25V0.75H0.2L0,1L-0.2,0.75H-1.25Z"}, "value": "M-0.85,-1H0.85V0.75H0.2L0,1L-0.2,0.75H-0.85Z"}}},
{"data": {"name": "peaks"}, "transform": [{"filter": "datum.p == 'e'"}], "mark": {"type": "text", "font": "Liberation Sans", "fontSize": 9, "fontWeight": "bold", "color": "#e3ea78", "yOffset": -11, "align": "center", "baseline": "middle"}, "encoding": {"x": {"field": "e", "type": "quantitative", "title": null}, "y": {"field": "c", "type": "quantitative", "title": "имп/сек/эВ"}, "text": {"field": "el"}}}
]},
{"width": 499, "height": 227, "layer": [
{"data": {"name": "spec"}, "transform": [{"filter": "datum.p == 'f'"}], "mark": {"type": "area", "color": "#f4f414", "clip": true, "opacity": 1},
 "encoding": {
  "x": {"field": "e", "type": "quantitative", "scale": {"domain": [-1.6, 11.8], "nice": false, "zero": false},
   "axis": {"values": [0,0.5,1,1.5,2,2.5,3,3.5,4,4.5,5,5.5,6,6.5,7,7.5,8,8.5,9,9.5,10,10.5,11,11.5,11.79], "tickCount": 100, "labelExpr": "datum.value > 11.6 ? 'кэВ' : (datum.value % 2 == 0 ? format(datum.value, 'd') : '')", "labelAlign": {"condition": {"test": "datum.value > 11.6", "value": "right"}, "value": "center"}, "labelFontSize": {"condition": {"test": "datum.value % 2 == 0 || datum.value > 11.6", "value": 10}, "value": 0}, "offset": -26, "domain": false, "grid": false, "title": null, "tickColor": "#cdd6e3", "tickWidth": 2, "tickSize": {"condition": [{"test": "datum.value % 2 == 0 || datum.value > 11.6", "value": 10}, {"test": "datum.value % 1 == 0", "value": 7}], "value": 4}, "tickOpacity": {"condition": {"test": "datum.value > 11.6", "value": 0}, "value": 1}, "labelColor": "#8da2bf", "labelPadding": 2, "labelOverlap": false, "labelBound": false, "labelFlush": false}},
  "y": {"field": "c", "type": "quantitative", "stack": null, "scale": {"domain": [-4.43, 32.79], "nice": false, "zero": false},
   "axis": {"values": [0,2,4,6,8,10,12,14,16,18,20,22,24,26,28,30,32], "tickCount": 100, "labelExpr": "datum.value % 10 == 0 ? format(datum.value, 'd') : ''", "labelFontSize": {"condition": {"test": "datum.value % 10 == 0", "value": 10}, "value": 0}, "offset": -52, "domain": false, "grid": false, "tickColor": "#cdd6e3", "tickWidth": 2, "tickSize": {"condition": {"test": "datum.value % 10 == 0", "value": 10}, "value": 5}, "labelColor": "#8da2bf", "labelPadding": 3, "labelOverlap": false, "title": "имп/сек/эВ", "titleFontSize": 9, "titleFontWeight": "normal", "titleColor": "#8da2bf", "titleY": 95}},
  "y2": {"datum": 0}}},
{"data": {"name": "comp"}, "transform": [{"filter": "datum.p == 'f'"}], "mark": {"type": "rect", "fill": "white", "stroke": "#cfd6df", "strokeWidth": 1}, "encoding": {"x": {"datum": 6.27}, "x2": {"datum": 11.8}, "y": {"datum": 32.62}, "y2": {"datum": 4.59}}},
{"data": {"name": "comp"}, "transform": [{"filter": "datum.p == 'f'"}], "mark": {"type": "text", "font": "Liberation Serif", "fontSize": 26, "fontWeight": "bold", "color": "#b3141c", "lineBreak": "\n", "lineHeight": 28.2, "align": "center", "baseline": "middle"}, "encoding": {"x": {"datum": 9.09}, "y": {"datum": 27.87}, "text": {"field": "t"}}},
{"data": {"name": "tags"}, "transform": [{"filter": "datum.p == 'f'"}], "mark": {"type": "rect", "fill": "white", "stroke": "#333333", "strokeWidth": 1}, "encoding": {"x": {"datum": -1.55}, "x2": {"datum": -0.52}, "y": {"datum": 32.62}, "y2": {"datum": 28.85}}},
{"data": {"name": "tags"}, "transform": [{"filter": "datum.p == 'f'"}], "mark": {"type": "text", "font": "Liberation Serif", "fontSize": 19, "fontWeight": "bold", "color": "#111111", "align": "center", "baseline": "middle"}, "encoding": {"x": {"datum": -1.03}, "y": {"datum": 30.74}, "text": {"field": "tag"}}},
{"data": {"name": "peaks"}, "transform": [{"filter": "datum.p == 'f'"}], "mark": {"type": "point", "filled": true, "fill": "#1b385c", "stroke": "#8299b8", "strokeWidth": 1, "opacity": 1, "size": 256, "yOffset": -10}, "encoding": {"x": {"field": "e", "type": "quantitative", "title": null}, "y": {"field": "c", "type": "quantitative", "title": "имп/сек/эВ"}, "shape": {"condition": {"test": "length(datum.el) > 1", "value": "M-1.25,-1H1.25V0.75H0.2L0,1L-0.2,0.75H-1.25Z"}, "value": "M-0.85,-1H0.85V0.75H0.2L0,1L-0.2,0.75H-0.85Z"}}},
{"data": {"name": "peaks"}, "transform": [{"filter": "datum.p == 'f'"}], "mark": {"type": "text", "font": "Liberation Sans", "fontSize": 9, "fontWeight": "bold", "color": "#e3ea78", "yOffset": -11, "align": "center", "baseline": "middle"}, "encoding": {"x": {"field": "e", "type": "quantitative", "title": null}, "y": {"field": "c", "type": "quantitative", "title": "имп/сек/эВ"}, "text": {"field": "el"}}}
]}
], "spacing": 10}
]
}
